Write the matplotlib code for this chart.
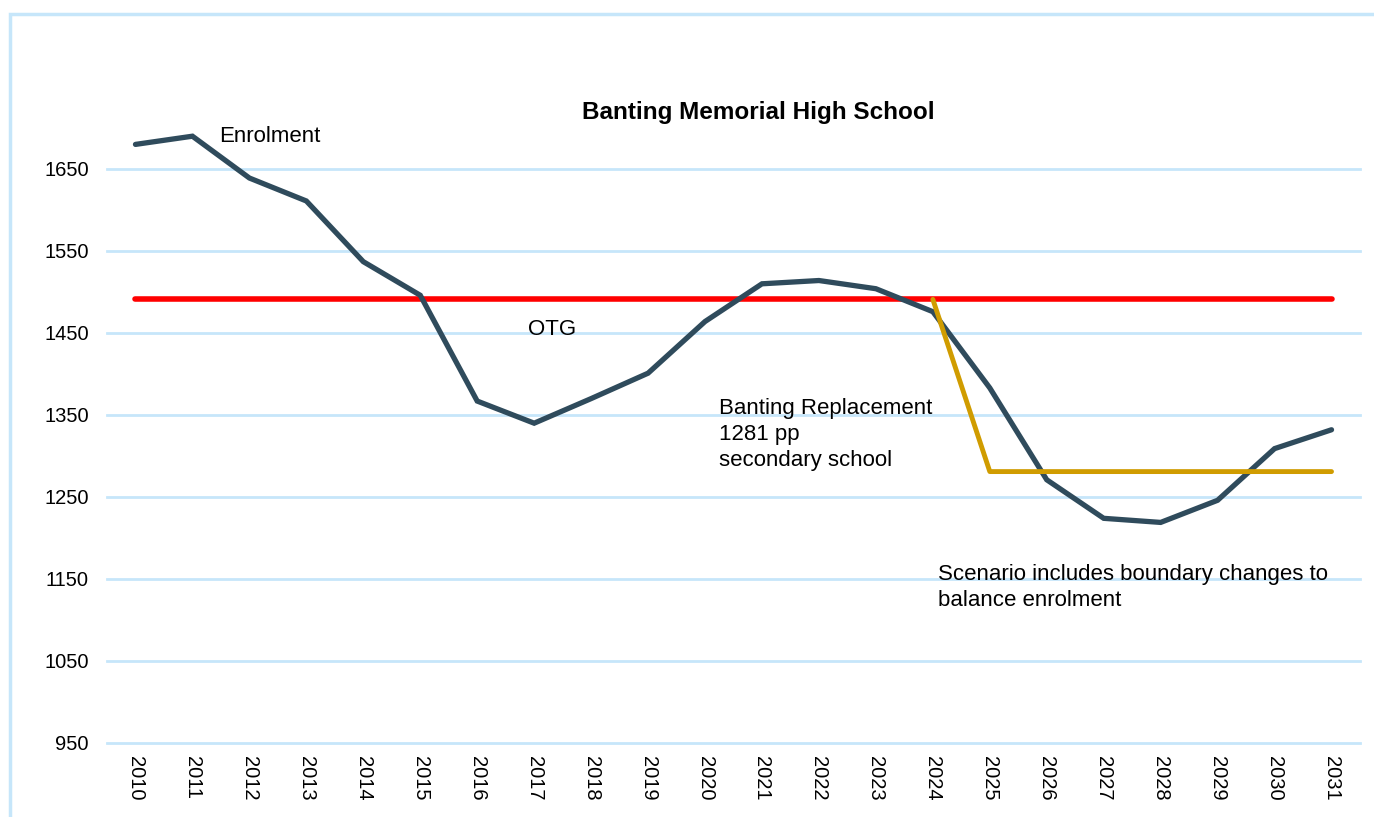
"""
Banting Memorial High School enrolment projection
"""

import matplotlib
matplotlib.use("Agg")
import matplotlib.pyplot as plt
from matplotlib.patches import Rectangle

plt.rcParams['font.family'] = ['Liberation Sans', 'DejaVu Sans']

# data
years = list(range(2010, 2032))
enrolment = [1680, 1690, 1639, 1611, 1537, 1496, 1367, 1340, 1370, 1401, 1464,
             1510, 1514, 1504, 1476, 1383, 1271, 1224, 1219, 1246, 1309, 1332]
otg = 1491
replacement_years = [2024, 2025, 2026, 2027, 2028, 2029, 2030, 2031]
replacement = [1491, 1281, 1281, 1281, 1281, 1281, 1281, 1281]
y_ticks = [950, 1050, 1150, 1250, 1350, 1450, 1550, 1650]

grid_col = '#C6E6FA'
line_col = '#2F4B5C'


def main():
    fig = plt.figure(figsize=(13.74, 8.17), dpi=100)

    # light blue chart frame
    fig.patches.append(Rectangle((10 / 1374, -0.05), 1.2, (817 - 14) / 817 + 0.05,
                                 transform=fig.transFigure, fill=False,
                                 edgecolor=grid_col, linewidth=2.5))

    ax = fig.add_axes([107 / 1374, 74 / 817, (1360 - 107) / 1374, (743 - 87) / 817])

    ax.plot(years, [otg] * len(years), color='#FF0000', linewidth=4,
            solid_capstyle='round', zorder=3)
    ax.plot(years, enrolment, color=line_col, linewidth=3.8,
            solid_capstyle='round', solid_joinstyle='miter', zorder=4)
    ax.plot(replacement_years, replacement, color='#D09C00', linewidth=3.5,
            solid_capstyle='round', zorder=5)

    ax.set_xlim(2009.5, 2031.5)
    ax.set_ylim(950, 1750)
    ax.set_yticks(y_ticks)
    ax.set_yticklabels([str(v) for v in y_ticks], fontsize=14.5)
    ax.set_xticks(years)
    ax.set_xticklabels([str(y) for y in years], fontsize=14.5, rotation=-90,
                       ha='center', va='top')
    ax.tick_params(axis='both', length=0)
    ax.tick_params(axis='y', pad=13)
    ax.tick_params(axis='x', pad=9)

    ax.grid(axis='y', color=grid_col, linewidth=2)
    for gl in ax.get_ygridlines():
        gl.set_clip_on(False)
    ax.set_axisbelow(True)
    for s in ax.spines.values():
        s.set_visible(False)

    # annotations
    ax.text(2011.47, 1690, 'Enrolment', fontsize=16, va='center', ha='left')
    ax.text(2016.89, 1454, 'OTG', fontsize=16, va='center', ha='left')
    ax.text(2020.24, 1326, 'Banting Replacement\n1281 pp\nsecondary school',
            fontsize=16, va='center', ha='left', linespacing=1.32)
    ax.text(2024.09, 1140, 'Scenario includes boundary changes to\nbalance enrolment',
            fontsize=16, va='center', ha='left', linespacing=1.32)

    fig.text(758 / 1374, (817 - 112) / 817, 'Banting Memorial High School',
             fontsize=17.5, fontweight='bold', ha='center', va='center')

    fig.savefig('out.png', dpi=100)


if __name__ == "__main__":
    main()
